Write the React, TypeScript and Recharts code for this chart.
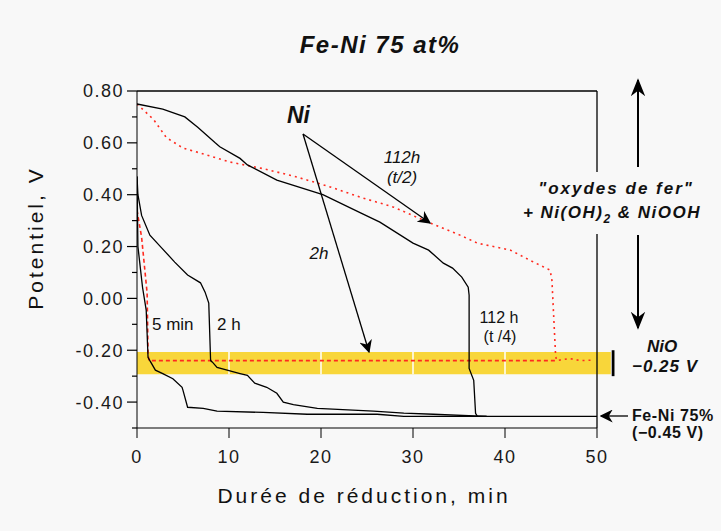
import { LineChart, Line, XAxis, YAxis, ReferenceArea, ReferenceLine } from 'recharts';

// plot geometry (px inside the 721x531 frame)
const W = 721;
const H = 531;
const PLOT_LEFT = 137;
const PLOT_TOP = 91;
const PLOT_RIGHT = 597;
const PLOT_BOTTOM = 428;
const Y_AXIS_W = 60;
const X_AXIS_H = 30;

const FONT = '"Liberation Sans", Arial, Helvetica, sans-serif';
const YELLOW = '#f8d63a';
const RED = '#ff2a1f';

// durations (min) / potential (V)
const xTicks = [0, 10, 20, 30, 40, 50];
const yTicks = [-0.5, -0.4, -0.3, -0.2, -0.1, 0, 0.1, 0.2, 0.3, 0.4, 0.5, 0.6, 0.7, 0.8];
const bandGrid = [10, 20, 30, 40];

// 112 h (t/4), black
const ni112hQuarter: [number, number][] = [
  [0, 0.75], [2.8, 0.73], [5.2, 0.7], [6.6, 0.66], [8.5, 0.6], [9, 0.585], [11.2, 0.54],
  [12, 0.515], [15.2, 0.456], [20.2, 0.4], [24.3, 0.33], [26.4, 0.294], [30, 0.213],
  [31.7, 0.186], [33.3, 0.136], [34.3, 0.117], [35.3, 0.082], [36, 0.043], [36.1, 0.012],
  [36.1, -0.27], [36.6, -0.316], [36.8, -0.443], [37, -0.455], [50, -0.455],
];

// 112 h (t/2), red dotted
const ni112hHalf: [number, number][] = [
  [0, 0.75], [1.8, 0.69], [3.2, 0.62], [5, 0.58], [7.6, 0.553], [10.1, 0.526], [13.8, 0.5],
  [17.4, 0.468], [21, 0.43], [24.3, 0.39], [27.9, 0.352], [31.9, 0.29], [35.1, 0.244],
  [37, 0.213], [40.6, 0.186], [43.1, 0.14], [44.9, 0.109], [45.1, 0.07], [45.5, -0.22],
  [45.6, -0.24], [47, -0.232], [48.2, -0.24], [49.6, -0.238],
];

// 5 min, red dashed
const fe5minRed: [number, number][] = [
  [0, 0.34], [0.5, 0.236], [1.1, 0.02], [1.2, -0.21], [1.3, -0.24], [45.5, -0.24],
];

// 5 min, black
const ni5min: [number, number][] = [
  [0, 0.47], [0.1, 0.2], [0.6, 0.043], [1, -0.045], [1.2, -0.227], [1.4, -0.24], [2, -0.277],
  [2.8, -0.29], [3.9, -0.31], [4.9, -0.343], [5, -0.355], [5.5, -0.42], [7.2, -0.424],
  [8.7, -0.435], [13.7, -0.44], [18.5, -0.447], [26.1, -0.447], [29, -0.455], [38, -0.455],
];

// 2 h, black
const ni2h: [number, number][] = [
  [0, 0.47], [0.1, 0.4], [0.5, 0.32], [1.4, 0.244], [2.7, 0.194], [4.1, 0.14], [5.5, 0.09],
  [6.9, 0.06], [7.4, 0.024], [7.8, -0.018], [8, -0.24], [8.2, -0.246], [8.7, -0.266],
  [9.8, -0.277], [11.2, -0.29], [12, -0.297], [12.8, -0.327], [14.1, -0.343], [15.2, -0.366],
  [15.9, -0.4], [17, -0.41], [19.6, -0.424], [25.7, -0.435], [29, -0.443], [32.2, -0.447],
  [38, -0.455],
];

const toRows = (pts: [number, number][]) => pts.map(([t, v]) => ({ t, v }));

const YTick = ({ x, y, payload }: any) => {
  const major = Math.round(payload.value * 10) % 2 === 0;
  const len = major ? 10 : 5;
  return (
    <g>
      <line x1={x - len} x2={x} y1={y} y2={y} stroke="#000" strokeWidth={1.2} />
      {major && (
        <text x={x - 13} y={y} dy="0.36em" textAnchor="end" fontSize={18} fill="#1a1a1a"
          fontFamily={FONT} letterSpacing={1.5}>
          {payload.value.toFixed(2)}
        </text>
      )}
    </g>
  );
};

function Overlay() {
  const txt = { fontFamily: FONT, fill: '#111' } as const;
  return (
    <svg width={W} height={H} style={{ position: 'absolute', left: 0, top: 0, pointerEvents: 'none' }}>
      <defs>
        <marker id="ah" viewBox="0 0 10 10" refX="9" refY="5" markerWidth="13" markerHeight="13"
          markerUnits="userSpaceOnUse" orient="auto-start-reverse">
          <path d="M0,0 L10,5 L0,10 L3,5 z" fill="#000" />
        </marker>
        <marker id="ahBig" viewBox="0 0 10 10" refX="9" refY="5" markerWidth="18" markerHeight="18"
          markerUnits="userSpaceOnUse" orient="auto-start-reverse">
          <path d="M0,1 L10,5 L0,9 L3,5 z" fill="#000" />
        </marker>
      </defs>

      <text x={380} y={53} textAnchor="middle" fontSize={24} fontWeight="bold" fontStyle="italic"
        letterSpacing={1.5} {...txt}>Fe-Ni 75 at%</text>

      <text transform="translate(43,238) rotate(-90)" textAnchor="middle" fontSize={21}
        letterSpacing={3} {...txt}>Potentiel, V</text>
      <text x={364} y={503} textAnchor="middle" fontSize={21} letterSpacing={3} {...txt}>
        Durée de réduction, min
      </text>

      {/* Ni pointers */}
      <text x={287} y={123} fontSize={23} fontWeight="bold" fontStyle="italic" {...txt}>Ni</text>
      <line x1={303} y1={134} x2={430} y2={223} stroke="#000" strokeWidth={1.3} markerEnd="url(#ah)" />
      <line x1={303} y1={134} x2={369} y2={352} stroke="#000" strokeWidth={1.3} markerEnd="url(#ah)" />
      <text x={402} y={163} textAnchor="middle" fontSize={17} fontStyle="italic" {...txt}>112h</text>
      <text x={402} y={183} textAnchor="middle" fontSize={17} fontStyle="italic" {...txt}>(t/2)</text>
      <text x={319} y={259} textAnchor="middle" fontSize={17} fontStyle="italic" {...txt}>2h</text>

      <text x={152} y={330} fontSize={17} {...txt}>5 min</text>
      <text x={217} y={330} fontSize={17} {...txt}>2 h</text>
      <text x={499} y={323} textAnchor="middle" fontSize={16} {...txt}>112 h</text>
      <text x={500} y={342} textAnchor="middle" fontSize={16} {...txt}>(t /4)</text>

      {/* right-hand notes */}
      <rect x={528} y={172} width={185} height={62} fill="#f8f8f8" />
      <text x={616} y={194} textAnchor="middle" fontSize={17} fontWeight="bold" fontStyle="italic"
        letterSpacing={2} {...txt}>"oxydes de fer"</text>
      <text x={612} y={218} textAnchor="middle" fontSize={17} fontWeight="bold" fontStyle="italic"
        letterSpacing={1.5} {...txt}>
        + Ni(OH)<tspan fontSize={12} dy={5}>2</tspan><tspan dy={-5}> &amp; NiOOH</tspan>
      </text>
      <line x1={638} y1={167} x2={638} y2={80} stroke="#000" strokeWidth={2} markerEnd="url(#ahBig)" />
      <line x1={638} y1={235} x2={638} y2={328} stroke="#000" strokeWidth={2} markerEnd="url(#ahBig)" />

      <text x={662} y={352} textAnchor="middle" fontSize={17} fontWeight="bold" fontStyle="italic" {...txt}>NiO</text>
      <text x={665} y={372} textAnchor="middle" fontSize={17} fontWeight="bold" fontStyle="italic"
        letterSpacing={1} {...txt}>−0.25 V</text>

      <line x1={628} y1={416} x2={601} y2={416} stroke="#000" strokeWidth={1.3} markerEnd="url(#ah)" />
      <text x={632} y={421} fontSize={16} fontWeight="bold" letterSpacing={0.6} {...txt}>Fe-Ni 75%</text>
      <text x={632} y={438} fontSize={16} fontWeight="bold" letterSpacing={0.6} {...txt}>(−0.45 V)</text>
    </svg>
  );
}

export default function App() {
  return (
    <div style={{ position: 'absolute', left: 0, top: 0, width: W, height: H, background: '#f8f8f8' }}>
      <LineChart
        width={W}
        height={H}
        margin={{
          top: PLOT_TOP,
          left: PLOT_LEFT - Y_AXIS_W,
          right: W - PLOT_RIGHT,
          bottom: H - PLOT_BOTTOM - X_AXIS_H,
        }}
      >
        <XAxis
          type="number"
          dataKey="t"
          domain={[0, 50]}
          ticks={xTicks}
          height={X_AXIS_H}
          tickSize={10}
          tickMargin={12}
          stroke="#000"
          tick={{ fontSize: 18, fill: '#1a1a1a', fontFamily: FONT, letterSpacing: 1.5 }}
          allowDataOverflow
        />
        <YAxis
          type="number"
          dataKey="v"
          domain={[-0.5, 0.8]}
          ticks={yTicks}
          width={Y_AXIS_W}
          tickSize={0}
          tickMargin={0}
          tickLine={false}
          stroke="#000"
          tick={<YTick />}
          interval={0}
          allowDataOverflow
        />

        <ReferenceArea x1={0} x2={51.5} y1={-0.293} y2={-0.207} fill={YELLOW} fillOpacity={1}
          stroke="none" ifOverflow="visible" />
        <ReferenceArea x1={51.6} x2={51.9} y1={-0.3} y2={-0.2} fill="#000" fillOpacity={1}
          stroke="none" ifOverflow="visible" />
        {bandGrid.map((g) => (
          <ReferenceLine key={g} segment={[{ x: g, y: -0.207 }, { x: g, y: -0.293 }]}
            stroke="#fff" strokeWidth={1.5} />
        ))}

        <ReferenceLine segment={[{ x: 0, y: 0.8 }, { x: 50, y: 0.8 }]} stroke="#000" strokeWidth={1.3} />
        <ReferenceLine segment={[{ x: 50, y: 0.8 }, { x: 50, y: -0.5 }]} stroke="#000" strokeWidth={1.3} />

        <Line data={toRows(fe5minRed)} dataKey="v" stroke={RED} strokeWidth={1.6} strokeDasharray="4 3"
          dot={false} isAnimationActive={false} type="linear" />
        <Line data={toRows(ni112hHalf)} dataKey="v" stroke={RED} strokeWidth={1.6} strokeDasharray="2 4"
          dot={false} isAnimationActive={false} type="linear" />
        <Line data={toRows(ni5min)} dataKey="v" stroke="#000" strokeWidth={1.3}
          dot={false} isAnimationActive={false} type="linear" />
        <Line data={toRows(ni2h)} dataKey="v" stroke="#000" strokeWidth={1.3}
          dot={false} isAnimationActive={false} type="linear" />
        <Line data={toRows(ni112hQuarter)} dataKey="v" stroke="#000" strokeWidth={1.3}
          dot={false} isAnimationActive={false} type="linear" />
      </LineChart>
      <Overlay />
    </div>
  );
}
